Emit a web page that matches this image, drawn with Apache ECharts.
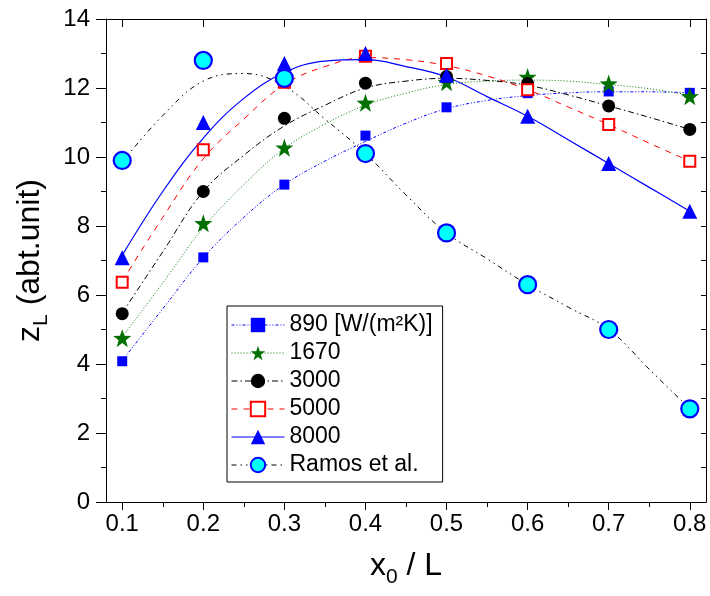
<!DOCTYPE html>
<html>
<head>
<meta charset="utf-8">
<script src="https://cdn.jsdelivr.net/npm/echarts@6/dist/echarts.min.js"></script>
<style>html,body{margin:0;padding:0;background:#fff}#c{width:710px;height:596px}</style>
</head>
<body>
<div id="c"></div>
<script>
// ---- data ----
const xValues = [0.1, 0.2, 0.3, 0.4, 0.5, 0.6, 0.7, 0.8];
const xTickLabels = [0.1, 0.2, 0.3, 0.4, 0.5, 0.6, 0.7, 0.8];
const xMinorTicks = [0.15, 0.25, 0.35, 0.45, 0.55, 0.65, 0.75];
const yTickLabels = [0, 2, 4, 6, 8, 10, 12, 14];
const seriesNames = ['890 [W/(m²K)]', '1670', '3000', '5000', '8000', 'Ramos et al.'];

// measured points
const pts890   = [4.08, 7.09, 9.20, 10.62, 11.44, 11.85, 11.90, 11.86];
const pts1670  = [4.75, 8.08, 10.27, 11.57, 12.17, 12.32, 12.13, 11.76];
const pts3000  = [5.46, 9.00, 11.12, 12.14, 12.33, 12.13, 11.48, 10.80];
const pts5000  = [6.37, 10.21, 12.17, 12.92, 12.71, 11.95, 10.94, 9.88];
const pts8000  = [7.08, 11.00, 12.71, 13.00, 12.37, 11.18, 9.81, 8.43];
const ptsRamos = [9.90, 12.80, 12.28, 10.10, 7.80, 6.30, 5.00, 2.70];

// fitted curves
const curveX    = [0.10, 0.15, 0.20, 0.25, 0.30, 0.35, 0.40, 0.45, 0.50, 0.55, 0.60, 0.65, 0.70, 0.75, 0.80];
const fit890    = [4.10, 5.60, 7.08, 8.25, 9.20, 9.88, 10.45, 10.98, 11.40, 11.64, 11.78, 11.86, 11.89, 11.89, 11.86];
const fit1670   = [4.78, 6.35, 7.95, 9.20, 10.25, 10.95, 11.50, 11.85, 12.10, 12.20, 12.23, 12.20, 12.10, 11.98, 11.79];
const fit3000   = [5.48, 7.25, 9.00, 10.05, 10.90, 11.50, 12.00, 12.20, 12.28, 12.22, 12.08, 11.80, 11.48, 11.15, 10.80];
const fit5000   = [6.40, 8.25, 9.95, 11.10, 12.10, 12.62, 12.88, 12.82, 12.65, 12.35, 11.95, 11.45, 10.94, 10.40, 9.88];
const fit8000   = [7.15, 9.00, 10.55, 11.70, 12.45, 12.78, 12.82, 12.62, 12.32, 11.75, 11.18, 10.50, 9.81, 9.12, 8.43];
const fitRamos  = [9.85, 11.20, 12.20, 12.42, 12.05, 11.10, 10.10, 8.90, 7.80, 7.05, 6.30, 5.65, 5.00, 3.85, 2.70];

// ---- styling ----
const FONT = "'Liberation Sans', Arial, sans-serif";
const STAR = 'path://M0,-10 L2.35,-3.24 L9.51,-3.09 L3.8,1.24 L5.88,8.09 L0,4 L-5.88,8.09 L-3.8,1.24 L-9.51,-3.09 L-2.35,-3.24 Z';

const styles = [
  { pts: pts890,   fit: fit890,   line: { color: '#0000ff', width: 1,   type: [3, 2, 1, 2, 1, 2] }, symbol: 'rect',     size: 10, item: { color: '#0000ff', borderColor: '#0000ff', borderWidth: 0, opacity: 1 } },
  { pts: pts1670,  fit: fit1670,  line: { color: '#008000', width: 1,   type: [1, 2] },              symbol: STAR,       size: 18, item: { color: '#007000', borderColor: '#007000', borderWidth: 0, opacity: 1 } },
  { pts: pts3000,  fit: fit3000,  line: { color: '#000000', width: 1,   type: [6, 3, 1.5, 3] },      symbol: 'circle',   size: 13, item: { color: '#000000', borderColor: '#000000', borderWidth: 0, opacity: 1 } },
  { pts: pts5000,  fit: fit5000,  line: { color: '#ff0000', width: 1,   type: [6, 6] },              symbol: 'rect',     size: 11, item: { color: '#ffffff', borderColor: '#ff0000', borderWidth: 2, opacity: 1 } },
  { pts: pts8000,  fit: fit8000,  line: { color: '#0000ff', width: 1.2, type: 'solid' },             symbol: 'triangle', size: 15, item: { color: '#0000ff', borderColor: '#0000ff', borderWidth: 0, opacity: 1 } },
  { pts: ptsRamos, fit: fitRamos, line: { color: '#000000', width: 1,   type: [5, 4, 1.5, 4, 1.5, 4] }, symbol: 'circle', size: 17, item: { color: '#00ffff', borderColor: '#0000ff', borderWidth: 2.2, opacity: 1 } }
];

const lineSeries = styles.map((s, i) => ({
  name: seriesNames[i],
  type: 'line',
  smooth: 0.4,
  showSymbol: false,
  symbol: s.symbol,
  symbolSize: s.size,
  itemStyle: s.item,
  lineStyle: s.line,
  data: curveX.map((x, k) => [x, s.fit[k]]),
  z: 2,
  silent: true
}));

const pointSeries = styles.map((s, i) => ({
  name: seriesNames[i],
  type: 'scatter',
  symbol: s.symbol,
  symbolSize: s.size,
  itemStyle: s.item,
  data: xValues.map((x, k) => [x, s.pts[k]]),
  z: 3 + i
}));

const axisColor = '#000';
const chart = echarts.init(document.getElementById('c'), null, { renderer: 'canvas' });
chart.setOption({
  animation: false,
  backgroundColor: '#fff',
  textStyle: { fontFamily: FONT },
  grid: { left: 106, right: 4, top: 19, bottom: 94 },
  legend: {
    data: seriesNames,
    orient: 'vertical',
    left: 227,
    top: 306,
    padding: [7, 10, 5, 4],
    itemGap: 4,
    itemWidth: 53,
    itemHeight: 18,
    backgroundColor: '#fff',
    borderColor: '#000',
    borderWidth: 1,
    lineStyle: { width: 1 },
    textStyle: { fontSize: 23, lineHeight: 24, color: '#000', fontFamily: FONT }
  },
  xAxis: [
    {
      type: 'value', position: 'bottom', min: 0.08, max: 0.82,
      axisLine: { show: true, onZero: false, lineStyle: { color: axisColor, width: 1 } },
      axisTick: { show: true, inside: false, length: 8, customValues: xTickLabels, lineStyle: { color: axisColor } },
      axisLabel: { show: true, customValues: xTickLabels, fontSize: 24, margin: 10, color: '#000', fontFamily: FONT, formatter: v => v.toFixed(1) },
      splitLine: { show: false },
      name: 'x{sub|0} / L',
      nameLocation: 'middle',
      nameGap: 43,
      nameTextStyle: { fontSize: 32, color: '#000', fontFamily: FONT, rich: { sub: { fontSize: 21, color: '#000', fontFamily: FONT, padding: [22, 0, 0, 0] } } }
    },
    {
      type: 'value', position: 'bottom', min: 0.08, max: 0.82,
      axisLine: { show: false },
      axisTick: { show: true, inside: false, length: 5, customValues: xMinorTicks, lineStyle: { color: axisColor } },
      axisLabel: { show: false },
      splitLine: { show: false }
    },
    {
      type: 'value', position: 'top', min: 0.08, max: 0.82,
      axisLine: { show: true, onZero: false, lineStyle: { color: axisColor, width: 1 } },
      axisTick: { show: true, inside: true, length: 8, customValues: xTickLabels, lineStyle: { color: axisColor } },
      axisLabel: { show: false },
      splitLine: { show: false }
    }
  ],
  yAxis: [
    {
      type: 'value', position: 'left', min: 0, max: 14, interval: 2,
      axisLine: { show: true, onZero: false, lineStyle: { color: axisColor, width: 1 } },
      axisTick: { show: true, inside: false, length: 10, lineStyle: { color: axisColor } },
      minorTick: { show: true, splitNumber: 2, length: 5, lineStyle: { color: axisColor } },
      axisLabel: { show: true, customValues: yTickLabels, fontSize: 24, margin: 16, color: '#000', fontFamily: FONT },
      splitLine: { show: false },
      name: 'z{sub|L} (abt.unit)',
      nameLocation: 'middle',
      nameRotate: 90,
      nameGap: 54,
      nameTextStyle: { fontSize: 32, color: '#000', fontFamily: FONT, rich: { sub: { fontSize: 21, color: '#000', fontFamily: FONT, padding: [22, 0, 0, 0] } } }
    },
    {
      type: 'value', position: 'right', min: 0, max: 14, interval: 1,
      axisLine: { show: true, onZero: false, lineStyle: { color: axisColor, width: 1 } },
      axisTick: { show: true, inside: true, length: 5, lineStyle: { color: axisColor } },
      axisLabel: { show: false },
      splitLine: { show: false }
    }
  ],
  series: lineSeries.concat(pointSeries)
});
</script>
</body>
</html>
